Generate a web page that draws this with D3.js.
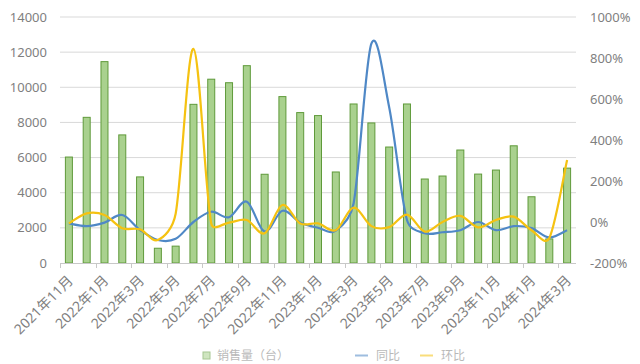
<!DOCTYPE html>
<html><head><meta charset="utf-8">
<script src="https://cdn.jsdelivr.net/npm/d3@7"></script>
<style>
html,body{margin:0;padding:0;background:#fff;overflow:hidden;}
text{font-family:"Noto Sans","Noto Sans CJK SC",sans-serif;}
</style></head>
<body><svg id="c" width="640" height="364"></svg>
<script>
const months = ["2021年11月","2021年12月","2022年1月","2022年2月","2022年3月","2022年4月","2022年5月","2022年6月","2022年7月","2022年8月","2022年9月","2022年10月","2022年11月","2022年12月","2023年1月","2023年2月","2023年3月","2023年4月","2023年5月","2023年6月","2023年7月","2023年8月","2023年9月","2023年10月","2023年11月","2023年12月","2024年1月","2024年2月","2024年3月"];
const sales = [6030, 8290, 11460, 7290, 4900, 840, 960, 9030, 10460, 10260, 11230, 5050, 9470, 8560, 8390, 5180, 9050, 7970, 6600, 9050, 4780, 4950, 6430, 5060, 5290, 6670, 3770, 1370, 5400];
const yoy = [-7, -20, -3, 34, -39, -88, -82, 0, 50, 23, 99, -47, 55, -2, -28, -42, 90, 870, 560, 10, -55, -50, -40, 0, -40, -20, -30, -75, -40];
const mom = [-7, 42, 34, -30, -36, -88, 40, 845, -7, -3, 10, -55, 83, -7, -7, -40, 70, -20, -25, 36, -47, 0, 30, -26, 10, 26, -40, -78, 302];
const leftTicks = [0, 2000, 4000, 6000, 8000, 10000, 12000, 14000];
const rightTicks = [-200, 0, 200, 400, 600, 800, 1000];
const legendNames = ["销售量（台）", "同比", "环比"];

const svg = d3.select("#c");
const X0 = 60, X1 = 576, YT = 17, YB = 263;
const x = d3.scaleBand().domain(months).range([X0, X1]);
const yL = d3.scaleLinear().domain([0, 14000]).range([YB, YT]);
const yR = d3.scaleLinear().domain([-200, 1000]).range([YB, YT]);
const grey = "#7f7f7f";

svg.append("g").selectAll("line").data(leftTicks.slice(1)).join("line")
  .attr("x1", X0).attr("x2", X1).attr("y1", d => yL(d)).attr("y2", d => yL(d))
  .attr("stroke", "#d9d9d9").attr("stroke-width", 1);

svg.append("g").selectAll("text").data(leftTicks).join("text")
  .attr("x", 47).attr("y", d => yL(d)).attr("dy", "0.35em")
  .attr("text-anchor", "end").attr("fill", grey).attr("font-size", 13)
  .text(d => d);

svg.append("g").selectAll("text").data(rightTicks).join("text")
  .attr("x", 590).attr("y", d => yR(d)).attr("dy", "0.35em")
  .attr("text-anchor", "start").attr("fill", grey).attr("font-size", 13)
  .text(d => d + "%");

const bw = 7;
svg.append("g").selectAll("rect").data(sales).join("rect")
  .attr("x", (d, i) => x(months[i]) + x.bandwidth() / 2 - bw / 2)
  .attr("y", d => yL(d))
  .attr("width", bw).attr("height", d => YB - yL(d))
  .attr("fill", "#a9d18e").attr("stroke", "#5f9a3a").attr("stroke-width", 1);

svg.append("line").attr("x1", X0).attr("x2", X1).attr("y1", YB + 0.5).attr("y2", YB + 0.5)
  .attr("stroke", "#c8c8c8");
svg.append("g").selectAll("line").data(months.filter((m, i) => i % 2 === 0)).join("line")
  .attr("x1", d => Math.round(x(d)) + 0.5).attr("x2", d => Math.round(x(d)) + 0.5)
  .attr("y1", YB).attr("y2", YB + 5).attr("stroke", "#c8c8c8");

svg.append("g").selectAll("text").data(months.filter((m, i) => i % 2 === 0)).join("text")
  .attr("transform", d => `translate(${x(d) + x.bandwidth() / 2 + 1.5},${YB + 15}) rotate(-45)`)
  .attr("text-anchor", "end").attr("dy", "0.35em")
  .attr("fill", grey).attr("font-size", 14)
  .text(d => d);

// Excel-like smoothed line: Catmull-Rom tangents with arms limited to half a segment
function smoothPath(vals) {
  const pts = vals.map((v, i) => [x(months[i]) + x.bandwidth() / 2, yR(v)]);
  const n = pts.length, p = d3.path();
  const tan = i => {
    const a = pts[Math.max(i - 1, 0)], b = pts[Math.min(i + 1, n - 1)];
    return [(b[0] - a[0]) / 6, (b[1] - a[1]) / 6];
  };
  p.moveTo(pts[0][0], pts[0][1]);
  for (let i = 0; i < n - 1; i++) {
    const P0 = pts[i], P1 = pts[i + 1];
    const d = Math.hypot(P1[0] - P0[0], P1[1] - P0[1]);
    const V0 = tan(i), V1 = tan(i + 1);
    const s0 = Math.min(1, 0.5 * d / (Math.hypot(V0[0], V0[1]) || 1));
    const s1 = Math.min(1, 0.5 * d / (Math.hypot(V1[0], V1[1]) || 1));
    p.bezierCurveTo(P0[0] + V0[0] * s0, P0[1] + V0[1] * s0,
                    P1[0] - V1[0] * s1, P1[1] - V1[1] * s1, P1[0], P1[1]);
  }
  return p.toString();
}
svg.append("path").attr("d", smoothPath(yoy))
  .attr("fill", "none").attr("stroke", "#4f88c6").attr("stroke-width", 2.2);
svg.append("path").attr("d", smoothPath(mom))
  .attr("fill", "none").attr("stroke", "#f5c211").attr("stroke-width", 2.2);

const lg = svg.append("g").attr("opacity", 0.55);
lg.append("rect").attr("x", 203).attr("y", 352).attr("width", 7).attr("height", 7)
  .attr("fill", "#a9d18e").attr("stroke", "#5f9a3a");
lg.append("text").attr("x", 217).attr("y", 360).attr("fill", grey).attr("font-size", 12).text(legendNames[0]);
lg.append("line").attr("x1", 355).attr("x2", 368).attr("y1", 355.5).attr("y2", 355.5).attr("stroke", "#4f88c6").attr("stroke-width", 2);
lg.append("text").attr("x", 376).attr("y", 360).attr("fill", grey).attr("font-size", 12).text(legendNames[1]);
lg.append("line").attr("x1", 420).attr("x2", 433).attr("y1", 355.5).attr("y2", 355.5).attr("stroke", "#f5c211").attr("stroke-width", 2);
lg.append("text").attr("x", 441).attr("y", 360).attr("fill", grey).attr("font-size", 12).text(legendNames[2]);
</script></body></html>
